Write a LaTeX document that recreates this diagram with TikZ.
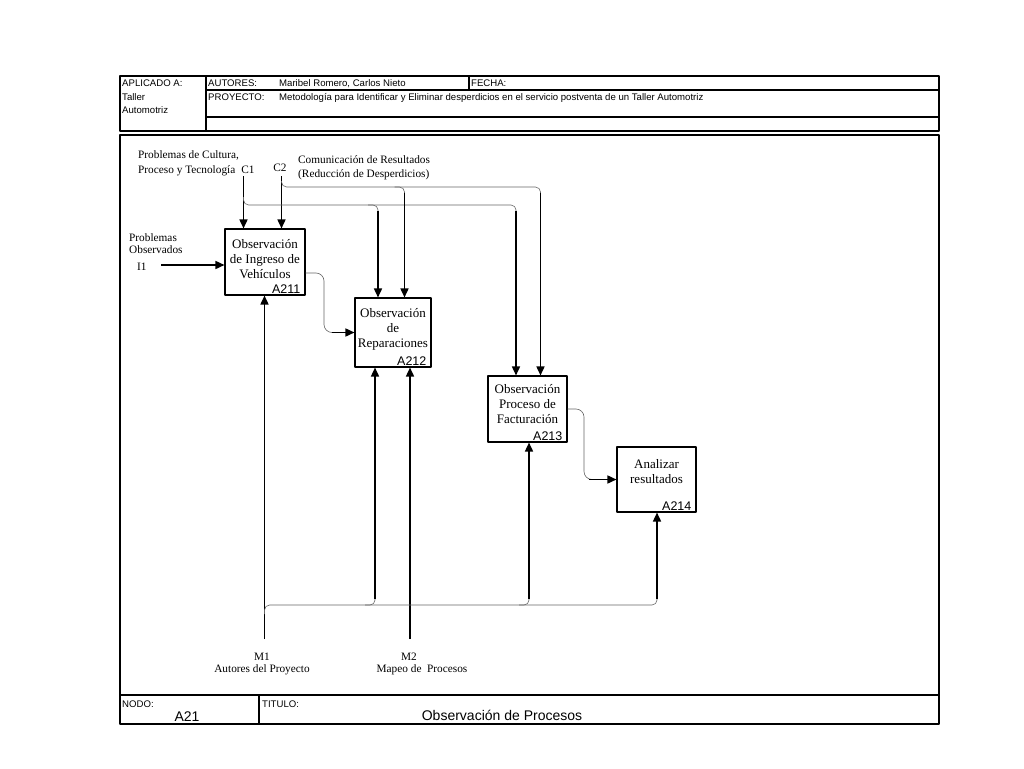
\documentclass[tikz,border=0pt]{standalone}
\usepackage{fontspec}
\setmainfont{Liberation Serif}
\newfontfamily\arialfont{Liberation Sans}
\usetikzlibrary{arrows.meta}
\tikzset{
  frame/.style={line width=1.1pt},
  arr/.style={line width=1.6pt,-{Triangle[length=9pt,width=8pt]}},
  branch/.style={line width=0.6pt,gray!80!black,rounded corners=5pt},
  procbox/.style={draw,line width=1.1pt,inner sep=0pt},
  boxtext/.style={align=center,inner sep=0pt,font=\fontsize{13}{15}\selectfont},
  boxid/.style={anchor=base east,inner sep=0pt,font=\arialfont\fontsize{12.5}{14}\selectfont},
  hdr/.style={anchor=base west,inner sep=0pt,font=\arialfont\fontsize{9.6}{11}\selectfont},
  lbl/.style={inner sep=0pt,font=\fontsize{11.3}{13}\selectfont}
}
\begin{document}
\begin{tikzpicture}[x=1pt,y=-1pt,line join=round]
    \fill[white] (0,0) rectangle (1024,768);
    \useasboundingbox (0,0) rectangle (1024,768);
    % header
    \draw[frame] (120,76) rectangle (939,131);
    \draw[frame] (206,76) -- (206,131);
    \draw[frame] (206,90) -- (939,90);
    \draw[frame] (206,117) -- (939,117);
    \draw[frame] (469,76) -- (469,90);
    \node[hdr] (aplicado) at (122,86) {APLICADO A:};
    \node[hdr] (taller) at (122,100) {Taller};
    \node[hdr] (automotriz) at (122,113) {Automotriz};
    \node[hdr] (autores) at (208,86) {AUTORES:};
    \node[hdr] (nombres) at (279,86) {Maribel Romero, Carlos Nieto};
    \node[hdr] (fecha) at (471,86) {FECHA:};
    \node[hdr] (proyecto) at (208,100) {PROYECTO:};
    \node[hdr] (titproy) at (279,100) {Metodología para Identificar y Eliminar desperdicios en el servicio postventa de un Taller Automotriz};
    % diagram frame and footer
    \draw[frame] (120,135) rectangle (939,724);
    \draw[frame] (120,695) -- (939,695);
    \draw[frame] (259,695) -- (259,724);
    \node[hdr] (nodo) at (122,707) {NODO:};
    \node[hdr] (titulo) at (262,707) {TITULO:};
    \node[anchor=base,inner sep=0pt,font=\arialfont\fontsize{14}{16}\selectfont] (nodonum) at (187,721) {A21};
    \node[anchor=base,inner sep=0pt,font=\arialfont\fontsize{14}{16}\selectfont] (titnom) at (502,720) {Observación de Procesos};
    % activities
    \node[procbox,minimum width=80pt,minimum height=66pt] (a211) at (265,262) {};
    \node[procbox,minimum width=76pt,minimum height=69pt] (a212) at (393,332.5) {};
    \node[procbox,minimum width=79pt,minimum height=66pt] (a213) at (527.5,409) {};
    \node[procbox,minimum width=79pt,minimum height=65pt] (a214) at (656.5,479.5) {};
    \node[boxtext] (t211) at ([yshift=3.4pt]a211.center) {Observación\\de Ingreso de\\Vehículos};
    \node[boxtext] (t212) at ([yshift=3.5pt]a212.center) {Observación\\de\\Reparaciones};
    \node[boxtext] (t213) at ([yshift=5.3pt]a213.center) {Observación\\Proceso de\\Facturación};
    \node[boxtext] (t214) at ([yshift=8.2pt]a214.center) {Analizar\\resultados};
    \foreach \b/\t in {a211/A211,a212/A212,a213/A213,a214/A214}
        \node[boxid] (id\b) at ([xshift=-5pt,yshift=2.5pt]\b.south east) {\t};
    % labels
    \node[lbl,anchor=west,align=left,font=\fontsize{11.3}{15}\selectfont] (c1txt) at (138,163) {Problemas de Cultura,\\Proceso y Tecnología};
    \node[lbl,anchor=base] (c1lbl) at (248,173) {C1};
    \node[lbl,anchor=base] (c2lbl) at (280,171) {C2};
    \node[lbl,anchor=west,align=left,font=\fontsize{11.3}{14}\selectfont] (c2txt) at (298,167.4) {Comunicación de Resultados\\(Reducción de Desperdicios)};
    \node[lbl,anchor=west,align=left,font=\fontsize{11.3}{12}\selectfont] (i1txt) at (129,244) {Problemas\\Observados};
    \node[lbl,anchor=base west] (i1lbl) at (137,270) {I1};
    \node[lbl,align=center,font=\fontsize{11.3}{12}\selectfont] (m1txt) at (262,663.5) {M1\\Autores del Proyecto};
    \node[lbl,anchor=base] (m2lbl) at (409,660) {M2};
    \node[lbl,anchor=base] (m2txt) at (422,672) {Mapeo de\ \ Procesos};
    % lanes
    \coordinate (c1) at (243.5,176);
    \coordinate (c2) at (281.5,176);
    \coordinate (c1j) at (243.5,197);
    \coordinate (c2j) at (281.5,181);
    \coordinate (c1b) at (378,205);
    \coordinate (c1c) at (516,205);
    \coordinate (c2b) at (404.5,187);
    \coordinate (c2c) at (540.5,187);
    \coordinate (i1) at (161,265);
    \coordinate (m1) at (264.5,639);
    \coordinate (m2) at (410,639);
    \coordinate (m1j) at (264.5,614);
    \coordinate (m1b) at (375,605);
    \coordinate (m1c) at (529,605);
    \coordinate (m1d) at (657,605);
    \coordinate (f1) at (324,273);
    \coordinate (f2) at (584,409);
    % controls
    \draw[arr] (c1) -- (c1 |- a211.north);
    \draw[arr] (c2) -- (c2 |- a211.north);
    \draw[branch] (c1j) |- (c1c) -- ([yshift=-8pt]c1c);
    \draw[branch] (c2j) |- (c2c) -- ([yshift=-8pt]c2c);
    \foreach \lane in {c1b,c2b}
        \draw[branch] ([xshift=-10pt]\lane) -| ([yshift=-8pt]\lane);
    \foreach \lane/\target in {c1b/a212,c2b/a212,c1c/a213,c2c/a213}
        \draw[arr] ([yshift=-6pt]\lane) -- (\lane |- \target.north);
    % input
    \draw[arr] (i1) -- (i1 -| a211.west);
    % outputs to inputs
    \draw[branch,rounded corners=8pt] (a211.east |- f1) -| (f1 |- a212.west) -- ++(12,0);
    \draw[arr] ([xshift=-22pt]a212.west) -- (a212.west);
    \draw[branch,rounded corners=8pt] (a213.east) -| (f2 |- a214.west) -- ++(12,0);
    \draw[arr] ([xshift=-27pt]a214.west) -- (a214.west);
    % mechanisms
    \draw[arr] (m1) -- (m1 |- a211.south);
    \draw[arr] (m2) -- (m2 |- a212.south);
    \draw[branch] (m1j) |- (m1d) -- ([yshift=8pt]m1d);
    \foreach \lane in {m1b,m1c}
        \draw[branch] ([xshift=-10pt]\lane) -| ([yshift=8pt]\lane);
    \foreach \lane/\target in {m1b/a212,m1c/a213,m1d/a214}
        \draw[arr] ([yshift=6pt]\lane) -- (\lane |- \target.south);
\end{tikzpicture}
\end{document}
